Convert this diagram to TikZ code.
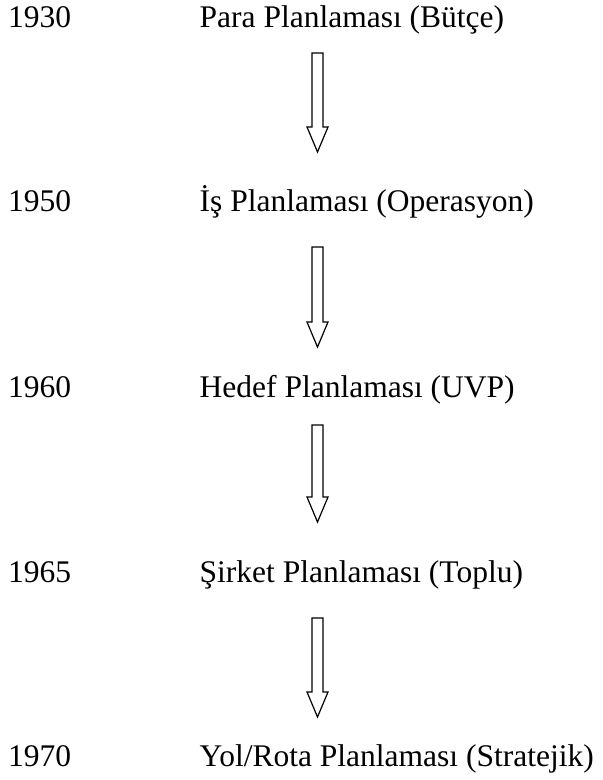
\documentclass[tikz,border=0pt]{standalone}
\usepackage{fontspec}
\setmainfont{Liberation Serif}
\usetikzlibrary{calc}

\begin{document}
\begin{tikzpicture}[
    x=1pt, y=-1pt,
    year/.style={anchor=base west, inner sep=0pt, font=\fontsize{31.5}{36}\selectfont},
    stage/.style={anchor=base west, inner sep=0pt, font=\fontsize{31.5}{36}\selectfont},
    blockarrow/.style={draw, line width=1.2pt, line join=miter, to path={
        ($(\tikztostart)+(-5.5,0)$) -- ($(\tikztotarget)+(-5.5,-25)$) -- ($(\tikztotarget)+(-10.5,-25)$)
        -- (\tikztotarget) -- ($(\tikztotarget)+(10.5,-25)$) -- ($(\tikztotarget)+(5.5,-25)$)
        -- ($(\tikztostart)+(5.5,0)$) -- cycle}}
]
\useasboundingbox (0,0) rectangle (603,780);

% Years
\node[year] (y1930) at (8,27) {1930};
\node[year] (y1950) at (8,211) {1950};
\node[year] (y1960) at (8,397) {1960};
\node[year] (y1965) at (8,582) {1965};
\node[year] (y1970) at (8,766) {1970};

% Planning stages
\node[stage] (butce) at (199.5,27) {Para Planlaması (Bütçe)};
\node[stage] (operasyon) at (199.5,211) {İş Planlaması (Operasyon)};
\node[stage] (uvp) at (199.5,397) {Hedef Planlaması (UVP)};
\node[stage] (toplu) at (199.5,582) {Şirket Planlaması (Toplu)};
\node[stage] (stratejik) at (199.5,766) {Yol/Rota Planlaması (Stratejik)};

% Arrow ends
\coordinate (top1) at (317.5,53);  \coordinate (tip1) at (317.5,152);
\coordinate (top2) at (317.5,247); \coordinate (tip2) at (317.5,347);
\coordinate (top3) at (317.5,425); \coordinate (tip3) at (317.5,522);
\coordinate (top4) at (317.5,618); \coordinate (tip4) at (317.5,717);

% Arrows
\draw[blockarrow] (top1) to (tip1);
\draw[blockarrow] (top2) to (tip2);
\draw[blockarrow] (top3) to (tip3);
\draw[blockarrow] (top4) to (tip4);

\end{tikzpicture}
\end{document}
